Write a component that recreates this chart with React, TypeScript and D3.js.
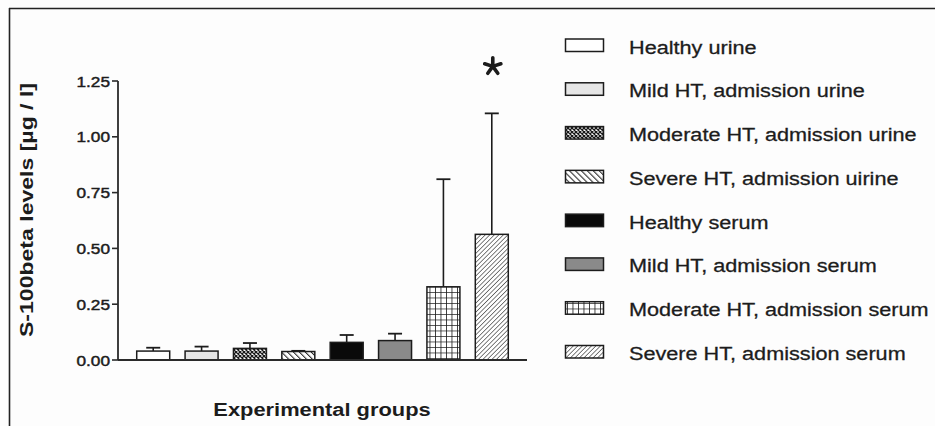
import React from "react";
import * as d3 from "d3";

const groups = [
  "Healthy urine",
  "Mild HT, admission urine",
  "Moderate HT, admission urine",
  "Severe HT, admission uirine",
  "Healthy serum",
  "Mild HT, admission serum",
  "Moderate HT, admission serum",
  "Severe HT, admission serum",
];
const means = [0.04, 0.04, 0.052, 0.038, 0.079, 0.087, 0.328, 0.563];
const errors = [0.015, 0.02, 0.024, 0.003, 0.033, 0.031, 0.482, 0.542];
const fills = ["#ffffff", "#e6e6e6", "url(#pCross)", "url(#pBack)", "#0a0a0a", "#8a8a8a", "url(#pGrid)", "url(#pFwd)"];
const yTicks = [0, 0.25, 0.5, 0.75, 1.0, 1.25];
const significant = [false, false, false, false, false, false, false, true];
const yTitle = "S-100beta levels [µg / l]";
const xTitle = "Experimental groups";

const W = 935;
const H = 426;
const FONT = "'Liberation Sans', Arial, Helvetica, sans-serif";
const INK = "#1c1c1c";

export default function App() {
  const y = d3.scaleLinear().domain([0, 1.25]).range([360, 81]);
  const x = d3.scaleBand<string>().domain(groups).range([118, 527]).paddingInner(0.318).paddingOuter(0.387);
  const bw = x.bandwidth();
  const legendY = d3.scalePoint<string>().domain(groups).range([46.5, 353]);
  const fmt = d3.format(".2f");

  return (
    <div style={{ position: "fixed", left: 0, top: 0, width: W, height: H }}>
      <svg width={W} height={H} style={{ display: "block", background: "#fdfdfd" }}>
        <defs>
          <pattern id="pCross" width="4" height="4" patternUnits="userSpaceOnUse">
            <rect width="4" height="4" fill="#fff" />
            <path d="M0,0 L4,4 M4,0 L0,4" stroke="#1a1a1a" strokeWidth="1.3" />
          </pattern>
          <pattern id="pBack" width="4.2" height="4.2" patternUnits="userSpaceOnUse" patternTransform="rotate(-45)">
            <rect width="4.2" height="4.2" fill="#fff" />
            <line x1="0" y1="0" x2="0" y2="4.2" stroke="#2a2a2a" strokeWidth="2.1" />
          </pattern>
          <pattern id="pGrid" width="5.5" height="5.5" patternUnits="userSpaceOnUse" x="0.5" y="0.5">
            <rect width="5.5" height="5.5" fill="#fff" />
            <path d="M0,0 H5.5 M0,0 V5.5" stroke="#1a1a1a" strokeWidth="1.6" />
          </pattern>
          <pattern id="pFwd" width="3.2" height="3.2" patternUnits="userSpaceOnUse" patternTransform="rotate(45)">
            <rect width="3.2" height="3.2" fill="#fff" />
            <line x1="0" y1="0" x2="0" y2="3.2" stroke="#2a2a2a" strokeWidth="1.2" />
          </pattern>
        </defs>

        {/* frame */}
        <line x1={9} y1={8.5} x2={W} y2={8.5} stroke="#222" strokeWidth={1.6} />
        <line x1={9.5} y1={8} x2={9.5} y2={H} stroke="#222" strokeWidth={1.6} />

        {/* bars */}
        {groups.map((g, i) => {
          const bx = x(g)!;
          const cx = bx + bw / 2;
          const top = y(means[i]);
          const et = y(means[i] + errors[i]);
          return (
            <g key={g}>
              <line x1={cx} x2={cx} y1={top} y2={et} stroke={INK} strokeWidth={1.6} />
              <line x1={cx - 7} x2={cx + 7} y1={et} y2={et} stroke={INK} strokeWidth={1.8} />
              <rect x={bx} y={top} width={bw} height={y(0) - top} fill={fills[i]} stroke={INK} strokeWidth={1.5} />
              {significant[i] && (
                <g transform={`translate(${cx + 1},${et - 47})`}>
                  {d3.range(5).map((k) => {
                    const a = (k * 2 * Math.PI) / 5 - Math.PI / 2;
                    return <line key={k} x1={0} y1={0} x2={8.5 * Math.cos(a)} y2={8.5 * Math.sin(a)} stroke={INK} strokeWidth={3.6} strokeLinecap="round" />;
                  })}
                </g>
              )}
            </g>
          );
        })}

        {/* axes */}
        <line x1={118} x2={527} y1={y(0)} y2={y(0)} stroke="#2a2a2a" strokeWidth={1.8} />
        <line x1={118} x2={118} y1={y(1.25)} y2={y(0)} stroke="#2a2a2a" strokeWidth={1.8} />
        {yTicks.map((t) => (
          <g key={t}>
            <line x1={112} x2={118} y1={y(t)} y2={y(t)} stroke="#2a2a2a" strokeWidth={1.6} />
            <text
              transform={`translate(110,${y(t) + 5.5}) scale(1.15,1)`}
              textAnchor="end"
              fontFamily={FONT}
              fontSize={15}
              fill={INK}
              stroke={INK}
              strokeWidth={0.45}
            >
              {fmt(t)}
            </text>
          </g>
        ))}

        <text
          transform={`translate(33,210) rotate(-90)`}
          textAnchor="middle"
          fontFamily={FONT}
          fontWeight="bold"
          fontSize={18}
          fill={INK}
          textLength={254}
          lengthAdjust="spacingAndGlyphs"
        >
          {yTitle}
        </text>
        <text
          transform={`translate(322,416) scale(1.15,1)`}
          textAnchor="middle"
          fontFamily={FONT}
          fontWeight="bold"
          fontSize={19}
          fill={INK}
        >
          {xTitle}
        </text>

        {/* legend */}
        {groups.map((g, i) => {
          const ly = legendY(g)!;
          return (
            <g key={"l" + g}>
              <rect x={565.5} y={ly - 7.5} width={38} height={12.5} fill={fills[i]} stroke={INK} strokeWidth={1.5} />
              <text
                transform={`translate(629,${ly + 7}) scale(1.14,1)`}
                fontFamily={FONT}
                fontSize={19}
                fill={INK}
                stroke={INK}
                strokeWidth={0.3}
              >
                {g}
              </text>
            </g>
          );
        })}
      </svg>
    </div>
  );
}
